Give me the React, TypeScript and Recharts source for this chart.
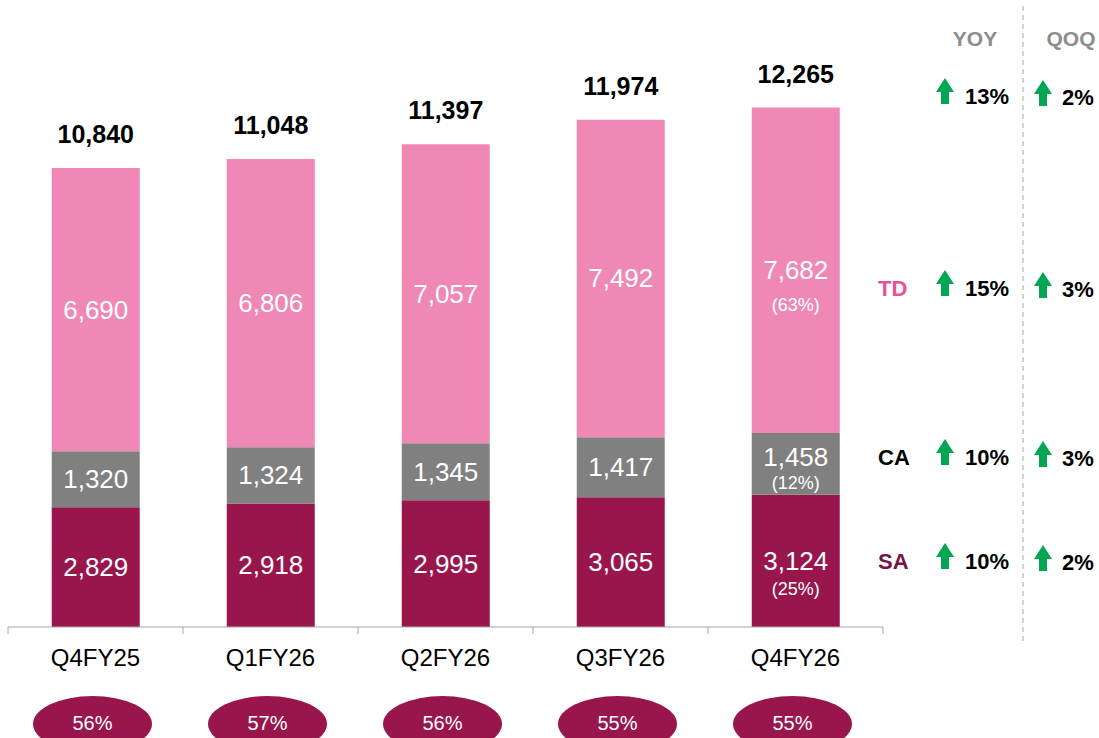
import { BarChart, Bar, XAxis, YAxis, LabelList } from "recharts";

const quarters = ["Q4FY25", "Q1FY26", "Q2FY26", "Q3FY26", "Q4FY26"];
const saValues = [2829, 2918, 2995, 3065, 3124];
const caValues = [1320, 1324, 1345, 1417, 1458];
const tdValues = [6690, 6806, 7057, 7492, 7682];
const totals = [10840, 11048, 11397, 11974, 12265];
const casaShare = ["56%", "57%", "56%", "55%", "55%"];
// mix shown only on the latest quarter
const latestMix = { sa: "(25%)", ca: "(12%)", td: "(63%)" };

const rowLabels = ["", "TD", "CA", "SA"];
const yoyGrowth = ["13%", "15%", "10%", "10%"];
const qoqGrowth = ["2%", "3%", "3%", "2%"];

const data = quarters.map((q, i) => ({
  quarter: q,
  sa: saValues[i],
  ca: caValues[i],
  td: tdValues[i],
  total: totals[i],
}));

const W = 1099;
const H = 738;
const MARGIN = { top: 34, right: 216, bottom: 71, left: 8 };
const BAND = (W - MARGIN.left - MARGIN.right) / quarters.length;
const FONT = "'Liberation Sans', Arial, sans-serif";

const fmt = (v: number) => v.toLocaleString("en-US");

// value label inside a segment; last quarter also shows its share
function segmentLabel(key: "sa" | "ca" | "td", shift: number, pctGap: number) {
  return (props: any) => {
    const { x, y, width, height, value, index } = props;
    const cx = x + width / 2;
    const last = index === quarters.length - 1;
    const cy = y + height / 2 + (last ? shift : 0);
    return (
      <g>
        <text x={cx} y={cy} textAnchor="middle" dominantBaseline="central" fill="#fff" fontSize={26} fontFamily={FONT}>
          {fmt(value)}
        </text>
        {last && (
          <text x={cx} y={cy + pctGap} textAnchor="middle" dominantBaseline="central" fill="#fff" fontSize={18} fontFamily={FONT}>
            {latestMix[key]}
          </text>
        )}
      </g>
    );
  };
}

function TotalLabel(props: any) {
  const { x, y, width, value } = props;
  return (
    <text x={x + width / 2} y={y - 25} textAnchor="middle" fill="#000" fontSize={25} fontWeight="bold" fontFamily={FONT}>
      {fmt(value)}
    </text>
  );
}

function QuarterTick(props: any) {
  const { x, y, payload, index } = props;
  const left = x - BAND / 2;
  const right = x + BAND / 2;
  return (
    <g>
      <line x1={left} x2={left} y1={y - 8} y2={y - 1} stroke="#a6a6a6" />
      {index === quarters.length - 1 && <line x1={right} x2={right} y1={y - 8} y2={y - 1} stroke="#a6a6a6" />}
      <text x={x} y={y + 22} textAnchor="middle" dominantBaseline="central" fill="#000" fontSize={24} fontFamily={FONT}>
        {payload.value}
      </text>
      <ellipse cx={x - 3} cy={y + 89} rx={59.5} ry={28} fill="#99164d" />
      <text x={x - 3} y={y + 88} textAnchor="middle" dominantBaseline="central" fill="#fff" fontSize={20} fontFamily={FONT}>
        {casaShare[index]}
      </text>
    </g>
  );
}

function UpArrow({ cx, cy }: { cx: number; cy: number }) {
  const top = cy - 13;
  const d = `M${cx} ${top} L${cx + 9} ${top + 14} L${cx + 4} ${top + 14} L${cx + 4} ${top + 26} L${cx - 4} ${top + 26} L${cx - 4} ${top + 14} L${cx - 9} ${top + 14} Z`;
  return <path d={d} fill="#00a651" />;
}

// text centre y of each growth row
const rowY = [96, 288, 457, 561];
const rowColors = ["#000", "#e8509a", "#000", "#7a1242"];

function GrowthPanel() {
  return (
    <svg width={W} height={H} style={{ position: "absolute", left: 0, top: 0, pointerEvents: "none" }}>
      <line x1={1023} x2={1023} y1={6} y2={645} stroke="#a6a6a6" strokeDasharray="5 4" />
      <text x={975} y={38} textAnchor="middle" dominantBaseline="central" fill="#8c8c8c" fontSize={21} fontWeight="bold" fontFamily={FONT}>
        YOY
      </text>
      <text x={1071} y={38} textAnchor="middle" dominantBaseline="central" fill="#8c8c8c" fontSize={21} fontWeight="bold" fontFamily={FONT}>
        QOQ
      </text>
      {rowLabels.map((lab, i) => (
        <g key={i}>
          {lab && (
            <text x={878} y={rowY[i]} dominantBaseline="central" fill={rowColors[i]} fontSize={22} fontWeight="bold" fontFamily={FONT}>
              {lab}
            </text>
          )}
          <UpArrow cx={945} cy={rowY[i] - 5} />
          <text x={965} y={rowY[i]} dominantBaseline="central" fill="#000" fontSize={22} fontWeight="bold" fontFamily={FONT}>
            {yoyGrowth[i]}
          </text>
          <UpArrow cx={1043} cy={rowY[i] - 3} />
          <text x={1062} y={rowY[i] + 1} dominantBaseline="central" fill="#000" fontSize={22} fontWeight="bold" fontFamily={FONT}>
            {qoqGrowth[i]}
          </text>
        </g>
      ))}
    </svg>
  );
}

export default function App() {
  return (
    <div style={{ position: "absolute", left: 0, top: 0, width: W, height: H, background: "#fff" }}>
      <BarChart width={W} height={H} data={data} margin={MARGIN} barCategoryGap="25%">
        <YAxis hide domain={[0, 14000]} />
        <XAxis
          dataKey="quarter"
          height={40}
          interval={0}
          tickLine={false}
          axisLine={{ stroke: "#a6a6a6" }}
          tick={QuarterTick}
        />
        <Bar dataKey="sa" stackId="a" fill="#99164d" isAnimationActive={false}>
          <LabelList dataKey="sa" content={segmentLabel("sa", 0, 28)} />
        </Bar>
        <Bar dataKey="ca" stackId="a" fill="#808080" isAnimationActive={false}>
          <LabelList dataKey="ca" content={segmentLabel("ca", -7, 26)} />
        </Bar>
        <Bar dataKey="td" stackId="a" fill="#ef88b5" isAnimationActive={false}>
          <LabelList dataKey="td" content={segmentLabel("td", 0, 35)} />
          <LabelList dataKey="total" content={TotalLabel} />
        </Bar>
      </BarChart>
      <GrowthPanel />
    </div>
  );
}
